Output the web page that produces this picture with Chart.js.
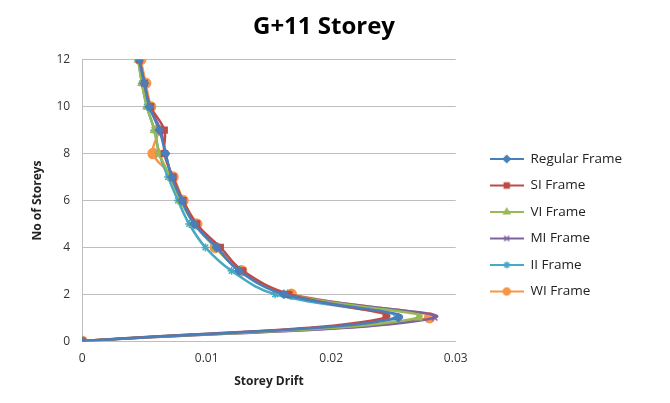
<!DOCTYPE html>
<html>
<head>
<meta charset="utf-8">
<script src="https://cdn.jsdelivr.net/npm/chart.js@4"></script>
<style>
  html, body { margin: 0; padding: 0; background: #fff; }
  #wrap { width: 670px; height: 403px; }
</style>
</head>
<body>
<div id="wrap"><canvas id="driftChart"></canvas></div>
<script>
// storey levels and drift per frame type
const storeys = [0, 1, 2, 3, 4, 5, 6, 7, 8, 9, 10, 11, 12];
const regularFrame = [0, 0.0254, 0.0162, 0.0126, 0.0108, 0.0090, 0.0080, 0.0072, 0.0067, 0.0062, 0.0054, 0.0050, 0.0046];
const siFrame      = [0, 0.0244, 0.0166, 0.0129, 0.0111, 0.0092, 0.0081, 0.0073, 0.0066, 0.0066, 0.0055, 0.0050, 0.0046];
const viFrame      = [0, 0.0270, 0.0165, 0.0127, 0.0107, 0.0090, 0.0079, 0.0071, 0.0062, 0.0058, 0.0052, 0.0048, 0.0045];
const miFrame      = [0, 0.0283, 0.0166, 0.0127, 0.0108, 0.0091, 0.0080, 0.0072, 0.0067, 0.0063, 0.0054, 0.0050, 0.0046];
const iiFrame      = [0, 0.0252, 0.0155, 0.0120, 0.0099, 0.0086, 0.0077, 0.0069, 0.0062, 0.0058, 0.0052, 0.0048, 0.0045];
const wiFrame      = [0, 0.0279, 0.0168, 0.0128, 0.0107, 0.0092, 0.0081, 0.0073, 0.0057, 0.0061, 0.0055, 0.0051, 0.0047];
const xTicks = [0, 0.01, 0.02, 0.03];

const font = "'Open Sans', 'Liberation Sans', sans-serif";

function series(label, drift, color, style, radius) {
    return {
        label: label,
        data: drift.map((d, i) => ({ x: d, y: storeys[i] })),
        borderColor: color,
        backgroundColor: color,
        pointStyle: style,
        pointRadius: radius,
        pointBorderWidth: 1.5,
        borderWidth: 2.5,
        showLine: true,
        tension: 0.4,
        fill: false
    };
}

// legend swatch: short line with the marker in the middle
function swatch(ds) {
    const c = document.createElement('canvas');
    c.width = 34;
    c.height = 12;
    const g = c.getContext('2d');
    g.strokeStyle = ds.borderColor;
    g.lineWidth = 2;
    g.beginPath();
    g.moveTo(0, 6);
    g.lineTo(34, 6);
    g.stroke();
    g.fillStyle = ds.backgroundColor;
    g.lineWidth = 1.5;
    Chart.helpers.drawPoint(g, { pointStyle: ds.pointStyle, radius: 3.5, rotation: 0, borderWidth: 1.5 }, 17, 6);
    return c;
}

const ctx = document.getElementById('driftChart').getContext('2d');
const driftChart = new Chart(ctx, {
    type: 'scatter',
    data: {
        datasets: [
            series('Regular Frame', regularFrame, '#4A7EBB', 'rectRot', 4),
            series('SI Frame', siFrame, '#BE4B48', 'rect', 4),
            series('VI Frame', viFrame, '#98B954', 'triangle', 4),
            series('MI Frame', miFrame, '#7D60A0', 'crossRot', 4),
            series('II Frame', iiFrame, '#46AAC5', 'star', 4),
            series('WI Frame', wiFrame, '#F79646', 'circle', 5)
        ]
    },
    options: {
        responsive: true,
        maintainAspectRatio: false,
        animation: false,
        layout: { padding: { top: 6, right: 38, left: 16, bottom: 13 } },
        plugins: {
            title: {
                display: true,
                text: 'G+11 Storey',
                color: '#000',
                font: { family: font, size: 24, weight: 'bold' },
                padding: { top: 7, bottom: 18 }
            },
            legend: {
                position: 'right',
                maxWidth: 200,
                title: { display: true, text: ' ', padding: { top: 40 } },
                labels: {
                    usePointStyle: true,
                    pointStyleWidth: 34,
                    color: '#222',
                    font: { family: font, size: 13.5 },
                    padding: 13,
                    generateLabels: chart => {
                        const items = Chart.defaults.plugins.legend.labels.generateLabels(chart);
                        items.forEach(it => { it.pointStyle = swatch(chart.data.datasets[it.datasetIndex]); });
                        return items;
                    }
                }
            },
            tooltip: { enabled: false }
        },
        scales: {
            x: {
                type: 'linear',
                min: 0,
                max: 0.03,
                afterBuildTicks: axis => { axis.ticks = xTicks.map(v => ({ value: v })); },
                ticks: { color: '#333', font: { family: font, size: 12 }, padding: 2 },
                grid: { display: false },
                border: { color: '#BEBEBE' },
                title: {
                    display: true,
                    text: 'Storey Drift',
                    color: '#222',
                    font: { family: font, size: 12, weight: 'bold' },
                    padding: { top: 7, bottom: 1 }
                }
            },
            y: {
                min: 0,
                max: 12,
                ticks: { stepSize: 2, color: '#333', font: { family: font, size: 12 }, padding: 12 },
                grid: { color: '#BEBEBE', drawTicks: false },
                border: { color: '#BEBEBE' },
                title: {
                    display: true,
                    text: 'No of Storeys',
                    color: '#222',
                    font: { family: font, size: 12, weight: 'bold' },
                    padding: { top: 14, bottom: 0 }
                }
            },
            // empty gap between plot and legend
            gap: {
                type: 'linear',
                position: 'right',
                display: true,
                ticks: { display: false },
                grid: { display: false },
                border: { display: false },
                afterFit: s => { s.width = 21; }
            }
        }
    }
});
</script>
</body>
</html>
